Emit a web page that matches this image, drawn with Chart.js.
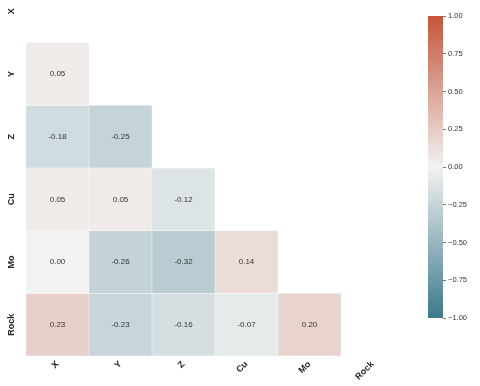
<!DOCTYPE html>
<html>
<head>
<meta charset="utf-8">
<script src="https://cdn.jsdelivr.net/npm/chart.js"></script>
<style>
  html, body { margin: 0; padding: 0; background: #fff; }
  #wrap { position: relative; width: 480px; height: 386px; }
  #heat { position: absolute; left: 0; top: 0; }
  #bar { position: absolute; left: 420px; top: 0; }
</style>
</head>
<body>
<div id="wrap">
  <canvas id="heat" width="480" height="386"></canvas>
  <canvas id="bar" width="60" height="386"></canvas>
</div>
<script>
var VARIABLES = ["X", "Y", "Z", "Cu", "Mo", "Rock"];
// lower triangle of the correlation matrix, one row per variable
var ROW_Y = [0.05];
var ROW_Z = [-0.18, -0.25];
var ROW_CU = [0.05, 0.05, -0.12];
var ROW_MO = [0.00, -0.26, -0.32, 0.14];
var ROW_ROCK = [0.23, -0.23, -0.16, -0.07, 0.20];
var COLORBAR_TICKS = [-1, -0.75, -0.5, -0.25, 0, 0.25, 0.5, 0.75, 1];

var LOW = [61, 122, 140], MID = [242, 242, 242], HIGH = [196, 85, 58];
function corrColor(v) {
    var end = v < 0 ? LOW : HIGH;
    var t = Math.min(Math.abs(v), 1);
    var c = MID.map(function (m, i) { return Math.round(m + (end[i] - m) * t); });
    return "rgb(" + c.join(",") + ")";
}

var rows = [null, ROW_Y, ROW_Z, ROW_CU, ROW_MO, ROW_ROCK];
var datasets = [];
rows.forEach(function (vals, r) {
    if (!vals) return;
    datasets.push({
        label: VARIABLES[r],
        data: VARIABLES.map(function (c, j) { return j < r ? [r - 0.5, r + 0.5] : null; }),
        values: vals,
        backgroundColor: VARIABLES.map(function (c, j) { return j < r ? corrColor(vals[j]) : "transparent"; }),
        borderColor: "rgba(255,255,255,0.9)",
        borderWidth: 0.5,
        borderSkipped: false,
        grouped: false,
        barPercentage: 1,
        categoryPercentage: 1
    });
});

var cellText = {
    id: "cellText",
    afterDatasetsDraw: function (chart) {
        var ctx = chart.ctx;
        ctx.save();
        ctx.font = '8px "Liberation Sans", Arial, sans-serif';
        ctx.fillStyle = "#333";
        ctx.textAlign = "center";
        ctx.textBaseline = "middle";
        chart.data.datasets.forEach(function (ds, i) {
            chart.getDatasetMeta(i).data.forEach(function (bar, j) {
                if (ds.data[j] === null) return;
                var p = bar.getCenterPoint();
                ctx.fillText(ds.values[j].toFixed(2), p.x, p.y);
            });
        });
        ctx.restore();
    }
};

var labelFont = { family: '"Liberation Sans", Arial, sans-serif', size: 9, weight: "bold" };

new Chart(document.getElementById("heat"), {
    type: "bar",
    data: { labels: VARIABLES, datasets: datasets },
    options: {
        responsive: false,
        animation: false,
        devicePixelRatio: 1,
        layout: { padding: { left: 0, right: 76, top: 0, bottom: 0 } },
        plugins: { legend: { display: false }, tooltip: { enabled: false } },
        scales: {
            x: {
                type: "category",
                grid: { display: false, drawTicks: false },
                border: { display: false },
                ticks: { color: "#262626", font: labelFont, minRotation: 45, maxRotation: 45, autoSkip: false, padding: 3 },
                afterFit: function (s) { s.height = 30; s.paddingLeft = 0; s.paddingRight = 0; }
            },
            y: {
                type: "linear",
                reverse: true,
                min: -0.18,
                max: 5.5,
                grid: { display: false, drawTicks: false },
                border: { display: false },
                afterBuildTicks: function (s) { s.ticks = VARIABLES.map(function (v, i) { return { value: i }; }); },
                ticks: {
                    color: "#262626",
                    font: labelFont,
                    minRotation: 90,
                    maxRotation: 90,
                    crossAlign: "center",
                    padding: 3,
                    callback: function (v) { return VARIABLES[v]; }
                },
                afterFit: function (s) { s.width = 26; s.paddingTop = 0; s.paddingBottom = 0; }
            }
        }
    },
    plugins: [cellText]
});

function barGradient(context) {
    var area = context.chart.chartArea;
    if (!area) return MID;
    var g = context.chart.ctx.createLinearGradient(0, area.bottom, 0, area.top);
    for (var k = 0; k <= 20; k++) {
        g.addColorStop(k / 20, corrColor(-1 + k / 10));
    }
    return g;
}

new Chart(document.getElementById("bar"), {
    type: "bar",
    data: { labels: [""], datasets: [{ data: [[-1, 1]], backgroundColor: barGradient, borderWidth: 0, barPercentage: 1, categoryPercentage: 1 }] },
    options: {
        responsive: false,
        animation: false,
        devicePixelRatio: 1,
        layout: { padding: { left: 8, top: 16, bottom: 68, right: 0 } },
        plugins: { legend: { display: false }, tooltip: { enabled: false } },
        scales: {
            x: { display: false },
            y: {
                position: "right",
                min: -1,
                max: 1,
                afterBuildTicks: function (s) { s.ticks = COLORBAR_TICKS.map(function (v) { return { value: v }; }); },
                grid: { drawOnChartArea: false, tickLength: 3, color: "#777" },
                border: { display: false },
                ticks: {
                    color: "#333",
                    font: { family: '"Liberation Sans", Arial, sans-serif', size: 7.5 },
                    padding: 2,
                    callback: function (v) { return (v < 0 ? "\u2212" : "") + Math.abs(v).toFixed(2); }
                },
                afterFit: function (s) { s.width = 37; s.paddingTop = 0; s.paddingBottom = 0; }
            }
        }
    }
});
</script>
</body>
</html>
